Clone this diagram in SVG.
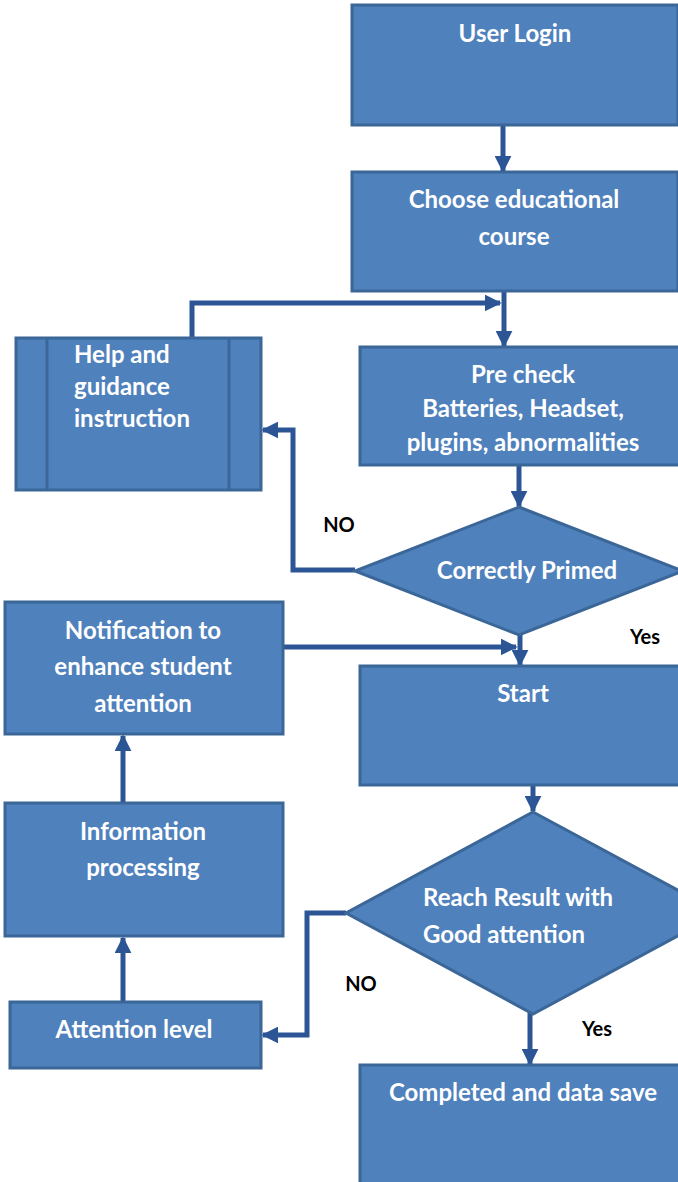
<svg xmlns="http://www.w3.org/2000/svg" width="678" height="1182" viewBox="0 0 678 1182">
<defs>
<style>
.box{fill:#4F81BD;stroke:#3B6698;stroke-width:3}
.t{font-family:Lato,"Open Sans",sans-serif;font-weight:bold;font-size:24px;fill:#FFFFFF}
.c{text-anchor:middle}
.lbl{font-family:Lato,"Open Sans",sans-serif;font-weight:bold;font-size:20px;fill:#000000;text-anchor:middle}
.ln{fill:none;stroke:#2C5596;stroke-width:5}
</style>
<marker id="ah" viewBox="0 0 10 10" refX="9" refY="5" markerWidth="3.4" markerHeight="3.4" orient="auto" markerUnits="strokeWidth">
<path d="M0,0 L10,5 L0,10 Z" fill="#2C5596"/>
</marker>
</defs>
<rect width="678" height="1182" fill="#FFFFFF"/>
<g id="connectors">
<path class="ln" d="M503,125 V171" marker-end="url(#ah)"/>
<path class="ln" d="M504,291 V346" marker-end="url(#ah)"/>
<path class="ln" d="M192,345 V303 H500" marker-end="url(#ah)"/>
<path class="ln" d="M519,465 V506" marker-end="url(#ah)"/>
<path class="ln" d="M355,570 H293 V430 H263" marker-end="url(#ah)"/>
<path class="ln" d="M520,635 V665" marker-end="url(#ah)"/>
<path class="ln" d="M283,647 H516" marker-end="url(#ah)"/>
<path class="ln" d="M533,785 V811" marker-end="url(#ah)"/>
<path class="ln" d="M346,913 H307 V1035 H263" marker-end="url(#ah)"/>
<path class="ln" d="M123,1002 V938" marker-end="url(#ah)"/>
<path class="ln" d="M123,803 V736" marker-end="url(#ah)"/>
<path class="ln" d="M530,1013 V1064" marker-end="url(#ah)"/>
</g>
<g id="n-login"><rect class="box" x="352" y="5" width="326" height="120"/><text class="t c" x="515" y="42">User Login</text></g>
<g id="n-course"><rect class="box" x="352" y="172" width="326" height="119"/><text class="t c" x="514" y="208">Choose educational</text><text class="t c" x="514" y="245">course</text></g>
<g id="n-help"><rect class="box" x="16" y="338" width="245" height="152"/><line x1="47" y1="338" x2="47" y2="490" stroke="#3B6698" stroke-width="3"/><line x1="229" y1="338" x2="229" y2="490" stroke="#3B6698" stroke-width="3"/><text class="t" x="74" y="363">Help and</text><text class="t" x="74" y="395">guidance</text><text class="t" x="74" y="427">instruction</text></g>
<g id="n-precheck"><rect class="box" x="360" y="347" width="320" height="118"/><text class="t c" x="523" y="383">Pre check</text><text class="t c" x="523" y="417">Batteries, Headset,</text><text class="t c" x="523" y="451">plugins, abnormalities</text></g>
<g id="n-primed"><polygon class="box" points="519,507 683,571 519,635 355,571"/><text class="t c" x="527" y="579">Correctly Primed</text></g>
<g id="n-notify"><rect class="box" x="5" y="602" width="278" height="132"/><text class="t c" x="143" y="639">Notification to</text><text class="t c" x="143" y="675">enhance student</text><text class="t c" x="143" y="712">attention</text></g>
<g id="n-start"><rect class="box" x="360" y="666" width="320" height="119"/><text class="t c" x="523" y="702">Start</text></g>
<g id="n-info"><rect class="box" x="5" y="803" width="278" height="133"/><text class="t c" x="143" y="840">Information</text><text class="t c" x="143" y="876">processing</text></g>
<g id="n-result"><polygon class="box" points="533,812 720,913 533,1014 346,913"/><text class="t" x="423" y="906">Reach Result with</text><text class="t" x="423" y="943">Good attention</text></g>
<g id="n-attn"><rect class="box" x="10" y="1002" width="251" height="66"/><text class="t c" x="134" y="1038">Attention level</text></g>
<g id="n-done"><rect class="box" x="360" y="1065" width="320" height="125"/><text class="t c" x="523" y="1101">Completed and data save</text></g>
<g id="labels"><text class="lbl" x="339" y="532">NO</text><text class="lbl" x="645" y="644">Yes</text><text class="lbl" x="361" y="991">NO</text><text class="lbl" x="597" y="1036">Yes</text></g>
</svg>
